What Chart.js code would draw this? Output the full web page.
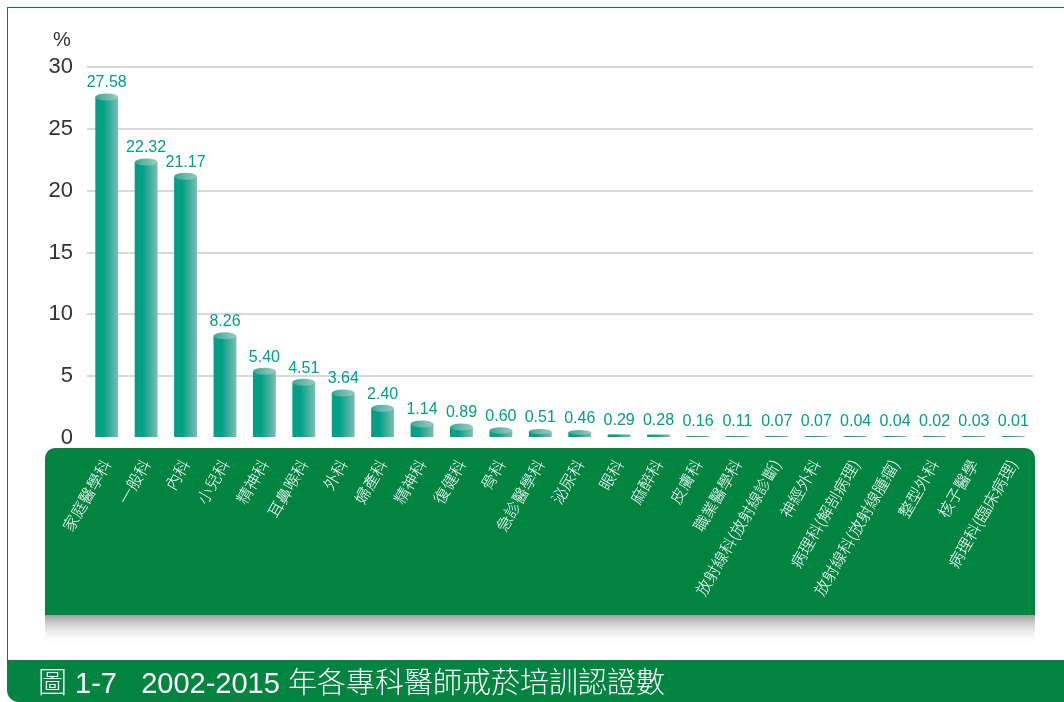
<!DOCTYPE html>
<html>
<head>
<meta charset="utf-8">
<script src="https://cdn.jsdelivr.net/npm/chart.js@4/dist/chart.umd.min.js"></script>
<style>
  html, body { margin: 0; padding: 0; background: #fff; }
  #wrap { position: relative; width: 1064px; height: 702px; overflow: hidden; }
  #frame { position: absolute; left: 7px; top: 7px; width: 1070px; height: 660px; border-left: 1px solid #00843f; border-top: 1px solid #00843f; box-sizing: border-box; }
  #chartBox { position: absolute; left: 0; top: 0; width: 1064px; height: 660px; }
  #caption { position: absolute; left: 7px; top: 660px; width: 1070px; height: 42px; background: #00843f; border-bottom-left-radius: 12px; color: #fff; font-family: "Liberation Sans", "Noto Sans CJK TC", sans-serif; font-size: 29px; line-height: 40px; padding-left: 31px; box-sizing: border-box; white-space: pre; }
  #caption .cjk { font-family: "Noto Sans CJK TC", sans-serif; font-weight: 300; }
</style>
</head>
<body>
<div id="wrap">
  <div id="frame"></div>
  <div id="chartBox"><canvas id="jsChart" width="1064" height="660"></canvas></div>
  <div id="caption"><span class="cjk">圖</span> 1-7   2002-2015 <span class="cjk">年各專科醫師戒菸培訓認證數</span></div>
</div>
<script>
'use strict';

let specialties = ['家庭醫學科', '一般科', '內科', '小兒科', '精神科', '耳鼻喉科', '外科', '婦產科', '精神科', '復健科', '骨科', '急診醫學科', '泌尿科', '眼科', '麻醉科', '皮膚科', '職業醫學科', '放射線科(放射線診斷)', '神經外科', '病理科(解剖病理)', '放射線科(放射線腫瘤)', '整型外科', '核子醫學', '病理科(臨床病理)'];
let percents = [27.58, 22.32, 21.17, 8.26, 5.40, 4.51, 3.64, 2.40, 1.14, 0.89, 0.60, 0.51, 0.46, 0.29, 0.28, 0.16, 0.11, 0.07, 0.07, 0.04, 0.04, 0.02, 0.03, 0.01];
let yTicks = [0, 5, 10, 15, 20, 25, 30];

const BAR_PCT = 0.58;

// green box behind the x labels, plus shadow
const labelBoxPlugin = {
  id: 'labelBox',
  beforeDraw( chart ) {
    const ctx = chart.ctx;
    const area = chart.chartArea;
    const left = area.left - 42;
    const right = area.right + 2;
    const top = area.bottom + 10;
    const bottom = top + 167;

    ctx.save();
    let shadow = ctx.createLinearGradient( 0, bottom, 0, bottom + 30 );
    shadow.addColorStop( 0, 'rgba(150,150,150,0.9)' );
    shadow.addColorStop( 1, 'rgba(255,255,255,0)' );
    ctx.fillStyle = shadow;
    ctx.fillRect( left, bottom, right - left, 30 );

    ctx.fillStyle = '#00843f';
    ctx.beginPath();
    ctx.roundRect( left, top, right - left, bottom - top, [10, 10, 0, 0] );
    ctx.fill();
    ctx.restore();
  }
};

// cylinder tops and value labels
const barTopPlugin = {
  id: 'barTop',
  afterDatasetsDraw( chart ) {
    const ctx = chart.ctx;
    const meta = chart.getDatasetMeta( 0 );
    ctx.save();
    meta.data.forEach( function( bar, i ) {
      const half = bar.width / 2;
      const h = bar.base - bar.y;
      if ( h > 3 ) {
        const ry = Math.min( 3.5, h / 2 );
        let g = ctx.createLinearGradient( bar.x - half, 0, bar.x + half, 0 );
        g.addColorStop( 0, '#3aa894' );
        g.addColorStop( 1, '#9ccbc3' );
        ctx.fillStyle = g;
        ctx.beginPath();
        ctx.ellipse( bar.x, bar.y, half, ry, 0, 0, Math.PI * 2 );
        ctx.fill();
      }
      ctx.fillStyle = '#00a086';
      ctx.font = '16px "Liberation Sans", Arial, sans-serif';
      ctx.textAlign = 'center';
      ctx.textBaseline = 'bottom';
      ctx.fillText( percents[i].toFixed( 2 ), bar.x, bar.y - 6 );
    } );
    ctx.restore();
  }
};

function barGradient( context ) {
  const chart = context.chart;
  const xs = chart.scales.x;
  if ( !chart.chartArea || !xs || context.dataIndex === undefined ) {
    return '#00a086';
  }
  const cx = xs.getPixelForValue( context.dataIndex );
  const half = ( xs.width / specialties.length ) * BAR_PCT / 2;
  if ( !isFinite( cx ) || !isFinite( half ) ) {
    return '#00a086';
  }
  let g = chart.ctx.createLinearGradient( cx - half, 0, cx + half, 0 );
  g.addColorStop( 0, '#00a086' );
  g.addColorStop( 0.35, '#00a086' );
  g.addColorStop( 1, '#80bdb3' );
  return g;
}

let ctx = document.getElementById( 'jsChart' ).getContext( '2d' );
let jsChart = new Chart( ctx, {
  type: 'bar',
  data: {
    labels: specialties,
    datasets: [{
      label: '%',
      data: percents,
      backgroundColor: barGradient,
      borderWidth: 0,
      minBarLength: 2,
      barPercentage: BAR_PCT,
      categoryPercentage: 1.0
    }]
  },
  options: {
    responsive: false,
    animation: false,
    layout: {
      padding: { top: 67, right: 31, left: 0, bottom: 0 }
    },
    plugins: {
      legend: { display: false },
      tooltip: { enabled: false }
    },
    scales: {
      x: {
        grid: { display: false },
        border: { display: false },
        afterFit( scale ) {
          scale.height = 222;
        },
        ticks: {
          color: '#ffffff',
          font: { family: '"Noto Sans CJK TC", sans-serif', size: 16, weight: 300 },
          minRotation: 60,
          maxRotation: 60,
          autoSkip: false,
          padding: 10
        }
      },
      y: {
        min: 0,
        max: 30,
        afterBuildTicks( scale ) {
          scale.ticks = yTicks.map( function( v ) { return { value: v }; } );
        },
        afterFit( scale ) {
          scale.width = 87;
        },
        border: { display: false },
        grid: {
          drawTicks: false,
          color: function( c ) { return c.tick && c.tick.value === 0 ? 'rgba(0,0,0,0)' : '#d9d9d9'; },
          lineWidth: 2
        },
        ticks: {
          color: '#333333',
          font: { family: '"Liberation Sans", Arial, sans-serif', size: 22 },
          padding: 14
        }
      }
    }
  },
  plugins: [labelBoxPlugin, barTopPlugin, {
    id: 'unit',
    afterDraw( chart ) {
      const c = chart.ctx;
      c.save();
      c.fillStyle = '#333333';
      c.font = '20px "Liberation Sans", Arial, sans-serif';
      c.textAlign = 'center';
      c.textBaseline = 'middle';
      c.fillText( '%', 62, 40 );
      c.restore();
    }
  }]
} );
</script>
</body>
</html>
